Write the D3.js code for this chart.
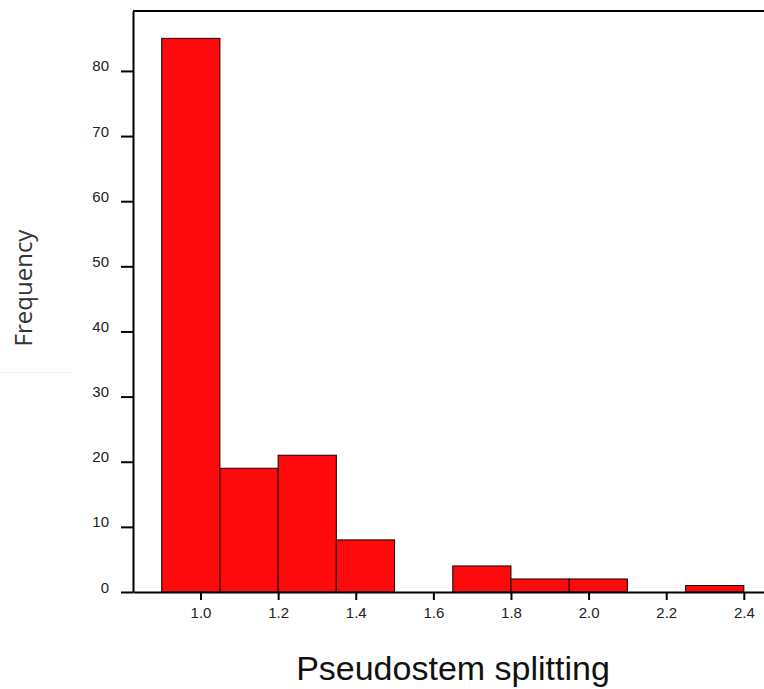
<!DOCTYPE html>
<html>
<head>
<meta charset="utf-8">
<script src="https://cdn.jsdelivr.net/npm/d3@7"></script>
<style>
  body { margin: 0; background: #fff; }
  svg { display: block; }
</style>
</head>
<body>
<div id="chart"></div>
<script>
// histogram bins (lower edge, upper edge) and counts
const binStarts = [0.9, 1.05, 1.2, 1.35, 1.5, 1.65, 1.8, 1.95, 2.1, 2.25]
const binEnds = [1.05, 1.2, 1.35, 1.5, 1.65, 1.8, 1.95, 2.1, 2.25, 2.4]
const counts = [85, 19, 21, 8, 0, 4, 2, 2, 0, 1]
const xTicks = [1.0, 1.2, 1.4, 1.6, 1.8, 2.0, 2.2, 2.4]
const yTicks = [0, 10, 20, 30, 40, 50, 60, 70, 80]

;(function () {
  const width = 764
  const height = 689

  const svg = d3.select('#chart')
    .append('svg')
    .attr('width', width)
    .attr('height', height)

  const xPositionScale = d3.scaleLinear()
    .domain([0.826, 2.452])
    .range([133, 764])

  const yPositionScale = d3.scaleLinear()
    .domain([0, 89.2])
    .range([592, 11])

  const bins = counts.map((c, i) => ({ x0: binStarts[i], x1: binEnds[i], count: c }))

  // bars
  svg.selectAll('rect.bar')
    .data(bins.filter(d => d.count > 0))
    .enter().append('rect')
    .attr('class', 'bar')
    .attr('x', d => xPositionScale(d.x0))
    .attr('width', d => xPositionScale(d.x1) - xPositionScale(d.x0))
    .attr('y', d => yPositionScale(d.count))
    .attr('height', d => yPositionScale(0) - yPositionScale(d.count))
    .attr('fill', '#fe0a0c')
    .attr('stroke', '#1a0000')
    .attr('stroke-width', 1)

  // top frame line
  svg.append('line')
    .attr('x1', xPositionScale.range()[0])
    .attr('x2', xPositionScale.range()[1])
    .attr('y1', yPositionScale.range()[1])
    .attr('y2', yPositionScale.range()[1])
    .attr('stroke', '#000')
    .attr('stroke-width', 2)

  const yAxis = d3.axisLeft(yPositionScale)
    .tickValues(yTicks)
    .tickSize(12)
    .tickSizeOuter(0)
    .tickPadding(12)

  const yg = svg.append('g')
    .attr('class', 'axis y-axis')
    .attr('transform', 'translate(133,0)')
    .call(yAxis)

  yg.selectAll('text').attr('dy', '0')

  const xAxis = d3.axisBottom(xPositionScale)
    .tickValues(xTicks)
    .tickSize(8)
    .tickSizeOuter(0)
    .tickPadding(7)
    .tickFormat(d3.format('.1f'))

  const xg = svg.append('g')
    .attr('class', 'axis x-axis')
    .attr('transform', 'translate(0,592)')
    .call(xAxis)

  svg.selectAll('.axis path, .axis line')
    .attr('stroke', '#000')
    .attr('stroke-width', 2)

  svg.selectAll('.axis text')
    .attr('fill', '#222')
    .style('font-family', 'Liberation Sans, Arial, sans-serif')
    .style('font-size', '15px')

  xg.raise()

  // axis titles
  svg.append('text')
    .attr('transform', 'translate(32,288) rotate(-90)')
    .attr('text-anchor', 'middle')
    .attr('fill', '#333')
    .style('font-family', 'Open Sans, sans-serif')
    .style('font-size', '24px')
    .text('Frequency')

  svg.append('line')
    .attr('x1', 0)
    .attr('x2', 72)
    .attr('y1', 372.5)
    .attr('y2', 372.5)
    .attr('stroke', '#f3f3f3')
    .attr('stroke-width', 1)

  svg.append('text')
    .attr('x', 453)
    .attr('y', 680)
    .attr('text-anchor', 'middle')
    .attr('fill', '#111')
    .style('font-family', 'Liberation Sans, Arial, sans-serif')
    .style('font-size', '34px')
    .text('Pseudostem splitting')
})()
</script>
</body>
</html>
